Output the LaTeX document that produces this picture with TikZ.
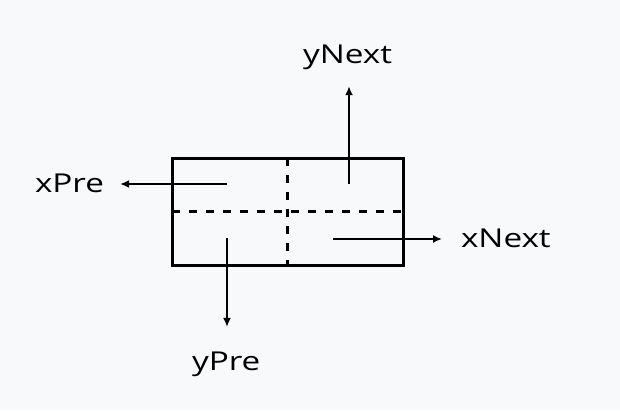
\documentclass[tikz,border=0pt]{standalone}
\usepackage{fontspec}
\setmainfont[FakeStretch=1.28]{Open Sans}
\usetikzlibrary{arrows.meta}
\definecolor{pagebg}{HTML}{F8F9FA}

\begin{document}
\begin{tikzpicture}[x=1pt,y=-1pt]
   \tikzstyle{every node}=[font=\fontsize{26}{30}\selectfont, inner sep=0pt, outer sep=0pt]
   \tikzstyle{cellbox}=[draw, line width=3pt, minimum width=231pt, minimum height=107pt]
   \tikzstyle{split}=[line width=2.5pt, dash pattern=on 8pt off 9pt]
   \tikzstyle{link}=[line width=2.5pt, -{Latex[length=9pt,width=8pt]}]

\fill[pagebg] (0,0) rectangle (620,410);
\useasboundingbox (0,0) rectangle (620,410);

\node[cellbox] (cell) at (287.5,211.5) {};
\draw[split] (cell.west) -- (cell.east);
\draw[split] (cell.north) -- (cell.south);

\coordinate (px) at (227,184);
\coordinate (nyy) at (349,184);
\coordinate (nxx) at (333,239);
\coordinate (py) at (227,238);

\node[anchor=base west] (xPre) at (35,192) {xPre};
\node[anchor=base west] (yNext) at (303,63) {yNext};
\node[anchor=base west] (xNext) at (461,247.5) {xNext};
\node[anchor=base west] (yPre) at (192,370.5) {yPre};

\draw[link, shorten >=16pt] (px) -- (px -| xPre.east);
\draw[link, shorten >=17pt] (nyy) -- (nyy |- yNext.south);
\draw[link, shorten >=19pt] (nxx) -- (nxx -| xNext.west);
\draw[link, shorten >=25pt] (py) -- (py |- yPre.north);

\end{tikzpicture}
\end{document}
